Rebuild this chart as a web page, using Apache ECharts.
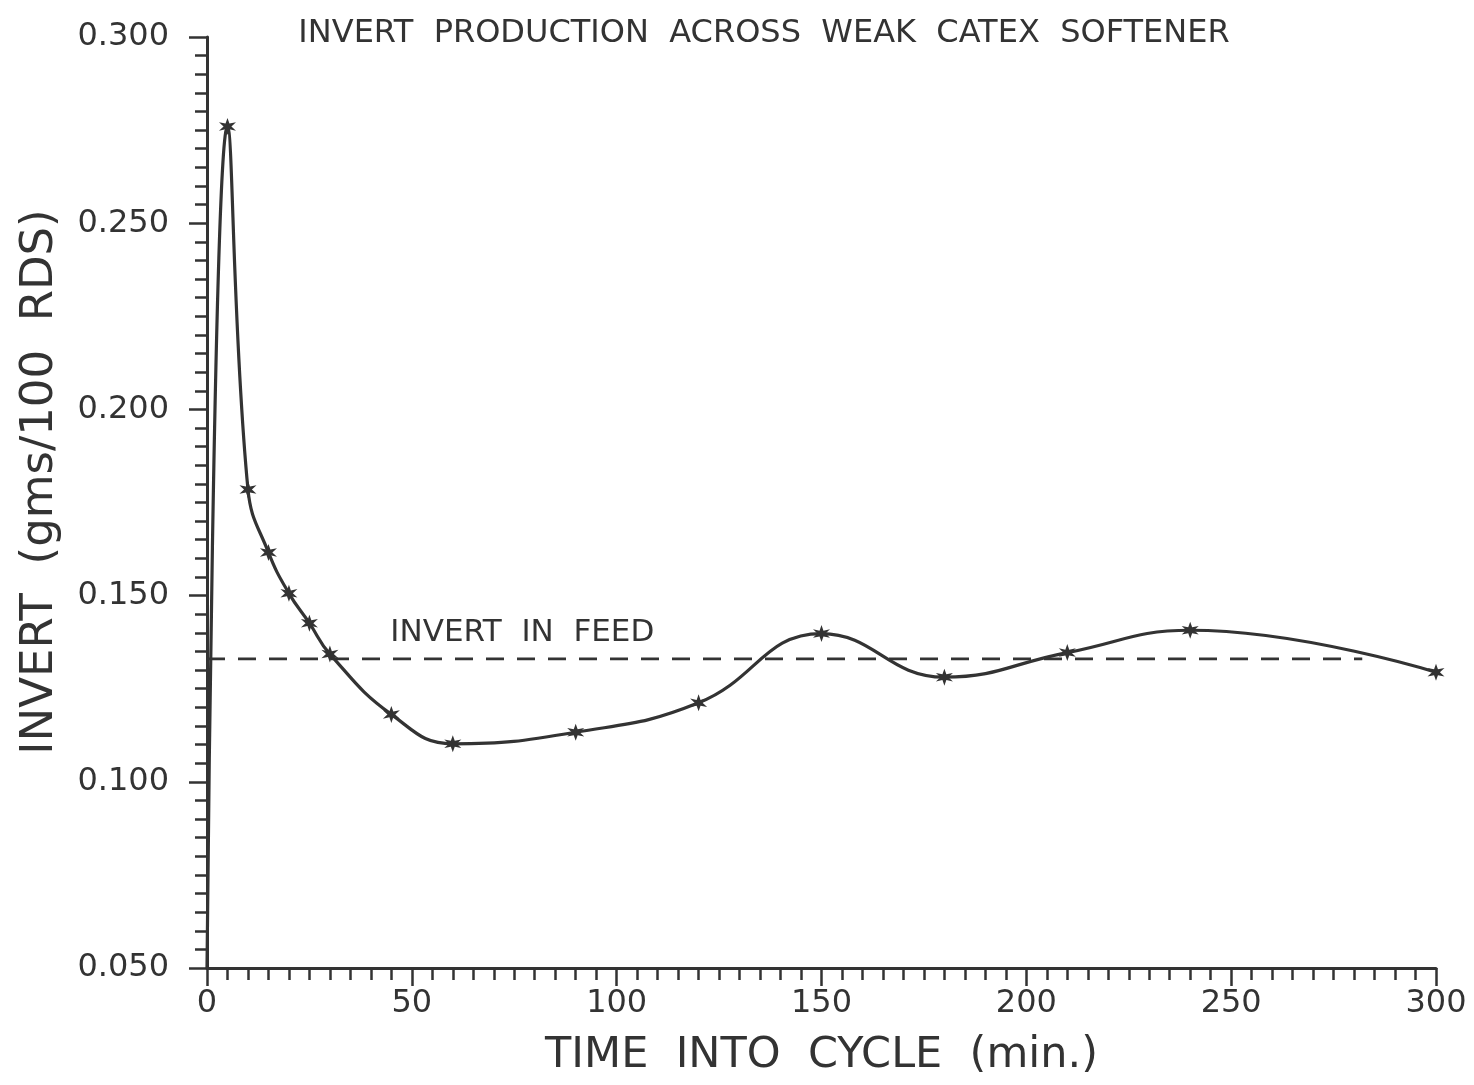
<!DOCTYPE html>
<html>
<head>
<meta charset="utf-8">
<script src="https://cdn.jsdelivr.net/npm/echarts@6/dist/echarts.min.js"></script>
<style>
  html, body { margin: 0; padding: 0; background: #ffffff; }
  #chart { width: 1474px; height: 1085px; }
</style>
</head>
<body>
<div id="chart"></div>
<script>
// ---- Data ----
var timeMin = [0, 5, 10, 15, 20, 25, 30, 45, 60, 90, 120, 150, 180, 210, 240, 300];
var invertValues = [0.050, 0.276, 0.1785, 0.1616, 0.1506, 0.1426, 0.1343, 0.1181, 0.1102, 0.1133, 0.1212, 0.1398, 0.1281, 0.1347, 0.1407, 0.1294];
var markedPoint = [false, true, true, true, true, true, true, true, true, true, true, true, true, true, true, true];
var feedStartEnd = [0, 282];
var feedValue = 0.133;
var feedLabel = 'INVERT  IN  FEED';
var feedLabelX = 45;
var titleText = 'INVERT  PRODUCTION  ACROSS  WEAK  CATEX  SOFTENER';
var xAxisName = 'TIME  INTO  CYCLE  (min.)';
var yAxisName = 'INVERT  (gms/100  RDS)';
var xTickValues = [0, 50, 100, 150, 200, 250, 300];
var yTickValues = [0.050, 0.100, 0.150, 0.200, 0.250, 0.300];

var ink = '#333333';
var font = "'DejaVu Sans', sans-serif";
var starPath = 'path://M0,-10L2,-3.46L8.66,-5L4,0L8.66,5L2,3.46L0,10L-2,3.46L-8.66,5L-4,0L-8.66,-5L-2,-3.46Z';

var mainData = timeMin.map(function (t, i) {
  return {
    value: [t, invertValues[i]],
    symbol: markedPoint[i] ? starPath : 'none'
  };
});
var feedData = feedStartEnd.map(function (t) { return [t, feedValue]; });

var chart = echarts.init(document.getElementById('chart'), null, { renderer: 'canvas' });
chart.setOption({
  backgroundColor: '#ffffff',
  animation: false,
  title: {
    text: titleText,
    left: 759,
    textAlign: 'center',
    top: 13,
    textStyle: { fontFamily: font, fontSize: 32, fontWeight: 'normal', color: ink }
  },
  grid: { left: 207, right: 38, top: 37, bottom: 117, containLabel: false },
  graphic: [{
    type: 'text',
    x: 40,
    y: 482,
    rotation: Math.PI / 2,
    style: {
      text: yAxisName,
      fontFamily: font,
      fontSize: 45,
      fill: ink,
      align: 'center',
      verticalAlign: 'middle'
    }
  }],
  xAxis: {
    type: 'value',
    min: xTickValues[0],
    max: xTickValues[xTickValues.length - 1],
    interval: 50,
    name: xAxisName,
    nameLocation: 'middle',
    nameGap: 66,
    nameTextStyle: { fontFamily: font, fontSize: 43, color: ink },
    axisLine: { show: true, lineStyle: { color: ink, width: 3 } },
    axisTick: { show: true, length: 18, inside: false, lineStyle: { color: ink, width: 2.5 } },
    minorTick: { show: true, splitNumber: 10, length: 12, lineStyle: { color: ink, width: 2.5 } },
    axisLabel: { fontFamily: font, fontSize: 32, color: ink, margin: 20 },
    splitLine: { show: false },
    minorSplitLine: { show: false }
  },
  yAxis: {
    type: 'value',
    min: yTickValues[0],
    max: yTickValues[yTickValues.length - 1],
    interval: 0.05,
    axisLine: { show: true, lineStyle: { color: ink, width: 3 } },
    axisTick: { show: true, length: 18, inside: false, lineStyle: { color: ink, width: 2.5 } },
    minorTick: { show: true, splitNumber: 10, length: 12, lineStyle: { color: ink, width: 2.5 } },
    axisLabel: {
      fontFamily: font, fontSize: 32, color: ink, margin: 38,
      formatter: function (v) { return v.toFixed(3); }
    },
    splitLine: { show: false },
    minorSplitLine: { show: false }
  },
  series: [
    {
      type: 'line',
      data: mainData,
      smooth: 0.45,
      symbolSize: 17,
      itemStyle: { color: ink },
      lineStyle: { color: ink, width: 3.2 },
      z: 3
    },
    {
      type: 'line',
      data: feedData,
      symbol: 'none',
      lineStyle: { color: ink, width: 2.8, type: [18, 13] },
      markPoint: {
        symbol: 'circle',
        symbolSize: 0,
        data: [{ coord: [feedLabelX, feedValue], value: feedLabel }],
        label: {
          show: true,
          position: 'right',
          offset: [-6, -26],
          formatter: '{c}',
          fontFamily: font,
          fontSize: 31,
          color: ink
        }
      },
      z: 2
    }
  ]
});
</script>
</body>
</html>
